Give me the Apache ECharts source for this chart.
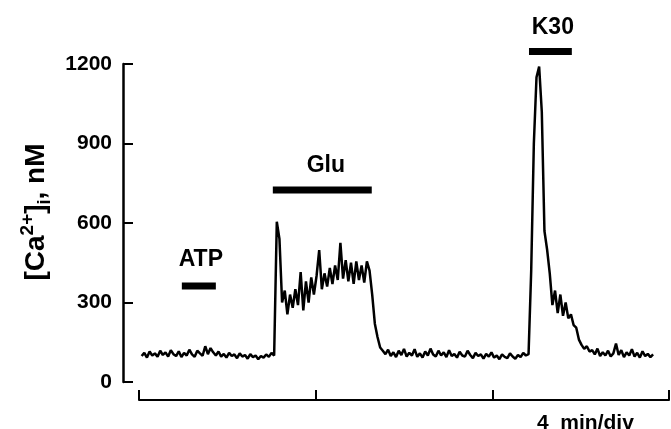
<!DOCTYPE html>
<html>
<head>
<meta charset="utf-8">
<script src="https://cdn.jsdelivr.net/npm/echarts@6/dist/echarts.min.js"></script>
<style>
  html, body { margin: 0; padding: 0; background: #fff; }
  #chart { width: 671px; height: 429px; }
</style>
</head>
<body>
<div id="chart"></div>
<script>
// trace sampled every 0.06 min, starting at 0.06 min
const traceStart = 0.06
const traceStep = 0.06
const traceValues = [
  98, 110, 92, 115, 100, 108, 95, 118, 102, 112,
  96, 120, 105, 98, 116, 94, 110, 100, 122, 104,
  95, 118, 108, 99, 135, 105, 128, 112, 100, 115,
  96, 106, 92, 110, 98, 104, 90, 108, 96, 102,
  88, 105, 94, 100, 86, 98, 92, 104, 95, 110,
  100, 605, 540, 300, 345, 255, 330, 280, 350, 290,
  415, 270, 380, 300, 395, 330, 400, 498, 350, 410,
  360, 430, 370, 440, 385, 525, 390, 460, 380, 450,
  370, 455, 385, 440, 375, 455, 420, 330, 220, 170,
  130, 118, 105, 122, 98, 112, 94, 118, 102, 125,
  96, 110, 100, 124, 95, 108, 92, 115, 100, 126,
  104, 96, 118, 100, 112, 94, 120, 98, 106, 92,
  114, 100, 96, 118, 102, 90, 110, 98, 104, 88,
  106, 96, 112, 92, 100, 86, 104, 95, 90, 108,
  96, 88, 102, 94, 110, 100, 105, 420, 900, 1150,
  1190, 1020, 570, 500, 410, 290, 345, 260, 330, 250,
  300, 240, 255, 215, 205, 160, 140, 125, 135, 115,
  120, 104, 126, 98, 112, 100, 118, 96, 108, 145,
  102, 120, 94, 112, 100, 124, 96, 110, 92, 116,
  98, 106, 94, 104
]

// stimulus bars: [start, end] in min, level in nM
const barNames = ['ATP', 'Glu', 'K30']
const barStart = [0.97, 3.03, 8.83]
const barEnd = [1.74, 5.27, 9.80]
const barLevel = [362, 725, 1247]
// label anchor for each bar
const labelTime = [1.40, 4.23, 9.37]
const labelLevel = [460, 815, 1338]

const yTicks = [0, 300, 600, 900, 1200]
const xTicks = [0, 4, 8, 12]

const chart = echarts.init(document.getElementById('chart'), null, { renderer: 'canvas' })

const traceData = traceValues.map((v, i) => [traceStart + i * traceStep, v])

const barSeries = barNames.map((name, i) => ({
  type: 'line',
  name: name,
  data: [[barStart[i], barLevel[i]], [barEnd[i], barLevel[i]]],
  symbol: 'none',
  clip: false,
  silent: true,
  lineStyle: { color: '#000', width: 7, cap: 'butt' }
}))

const option = {
  animation: false,
  backgroundColor: '#fff',
  textStyle: { fontFamily: 'Liberation Sans, Arial, sans-serif' },
  grid: { left: 139, right: 2, top: 64, bottom: 47 },
  xAxis: {
    type: 'value',
    min: xTicks[0],
    max: xTicks[xTicks.length - 1],
    interval: 4,
    offset: 18,
    axisLine: { onZero: false, lineStyle: { color: '#000', width: 2 } },
    axisTick: { inside: true, length: 10, lineStyle: { color: '#000', width: 2 } },
    axisLabel: { show: false },
    splitLine: { show: false }
  },
  yAxis: {
    type: 'value',
    min: yTicks[0],
    max: yTicks[yTicks.length - 1],
    interval: 300,
    offset: 16,
    axisLine: { show: true, onZero: false, lineStyle: { color: '#000', width: 2.5 } },
    axisTick: { show: true, inside: true, length: 10, lineStyle: { color: '#000', width: 2 } },
    axisLabel: { color: '#000', fontSize: 21, fontWeight: 'bold', margin: 11, formatter: v => String(v) },
    splitLine: { show: false },
    name: '[Ca{sup|2+}]{sub|i}, nM',
    nameLocation: 'middle',
    nameRotate: 90,
    nameGap: 58,
    nameTextStyle: {
      color: '#000',
      fontSize: 28,
      fontWeight: 'bold',
      lineHeight: 36,
      padding: [0, 0, 0, 22],
      rich: {
        sup: { fontSize: 19, fontWeight: 'bold', color: '#000', verticalAlign: 'top', lineHeight: 19 },
        sub: { fontSize: 18, fontWeight: 'bold', color: '#000', verticalAlign: 'bottom', lineHeight: 17 }
      }
    }
  },
  graphic: [
    {
      type: 'text',
      left: 537,
      top: 413,
      style: { text: '4  min/div', fill: '#000', font: 'bold 21px Liberation Sans, Arial, sans-serif' }
    }
  ],
  series: [
    {
      type: 'line',
      name: 'trace',
      data: traceData,
      symbol: 'none',
      lineStyle: { color: '#000', width: 2.5 }
    },
    ...barSeries,
    {
      type: 'scatter',
      name: 'labels',
      data: labelTime.map((t, i) => ({ value: [t, labelLevel[i]], name: barNames[i] })),
      symbolSize: 0,
      clip: false,
      silent: true,
      itemStyle: { opacity: 1, color: '#000' },
      label: {
        show: true,
        position: 'inside',
        formatter: '{b}',
        color: '#000',
        textBorderWidth: 0,
        fontSize: 23,
        fontWeight: 'bold'
      }
    }
  ]
}

chart.setOption(option)
</script>
</body>
</html>
